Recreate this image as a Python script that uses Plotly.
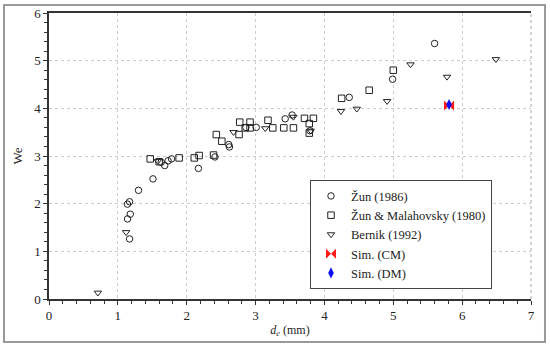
import plotly.graph_objects as go

# Žun (1986)
zun_x = [1.17, 1.14, 1.18, 1.14, 1.17, 1.30, 1.51, 1.63, 1.68, 1.73, 1.78, 2.17, 2.41,
         2.61, 2.62, 2.86, 3.01, 3.43, 3.53, 3.79, 4.36, 4.99, 5.60]
zun_y = [1.26, 1.68, 1.78, 1.99, 2.04, 2.28, 2.52, 2.87, 2.80, 2.90, 2.94, 2.74, 2.98,
         3.24, 3.19, 3.60, 3.60, 3.78, 3.86, 3.53, 4.23, 4.61, 5.36]

# Žun & Malahovsky (1980)
zm_x = [1.47, 1.60, 1.89, 2.11, 2.18, 2.39, 2.43, 2.51, 2.76, 2.77, 2.92, 2.85, 2.92,
        3.18, 3.25, 3.41, 3.55, 3.71, 3.84, 3.78, 3.78, 4.25, 4.65, 5.00]
zm_y = [2.94, 2.88, 2.96, 2.96, 3.01, 3.02, 3.45, 3.31, 3.45, 3.71, 3.71, 3.59, 3.59,
        3.75, 3.59, 3.59, 3.59, 3.79, 3.79, 3.68, 3.48, 4.21, 4.38, 4.80]

# Bernik (1992)
bern_x = [0.71, 1.12, 1.58, 2.68, 3.14, 3.55, 3.80, 4.24, 4.47, 4.91, 5.25, 5.78, 6.49]
bern_y = [0.13, 1.40, 2.89, 3.50, 3.58, 3.82, 3.53, 3.94, 3.99, 4.15, 4.92, 4.66, 5.03]

# Simulations
cm_x = [5.81]
cm_y = [4.06]
dm_x = [5.81]
dm_y = [4.08]

FONT = "Liberation Serif, Times New Roman, serif"
INK = "#222222"

fig = go.Figure()
fig.add_trace(go.Scatter(x=zun_x, y=zun_y, mode="markers", name="Žun (1986)",
                         marker=dict(symbol="circle-open", size=6.5, color=INK, line=dict(width=1))))
fig.add_trace(go.Scatter(x=zm_x, y=zm_y, mode="markers", name="Žun &amp; Malahovsky (1980)",
                         marker=dict(symbol="square-open", size=6.5, color=INK, line=dict(width=1))))
fig.add_trace(go.Scatter(x=bern_x, y=bern_y, mode="markers", name="Bernik (1992)",
                         marker=dict(symbol="triangle-down-open", size=6.5, color=INK, line=dict(width=1))))
fig.add_trace(go.Scatter(x=cm_x, y=cm_y, mode="markers", name="Sim. (CM)",
                         marker=dict(symbol="bowtie", size=10, color="#ff1a1a", line=dict(width=0))))
fig.add_trace(go.Scatter(x=dm_x, y=dm_y, mode="markers", name="Sim. (DM)",
                         marker=dict(symbol="diamond-tall", size=8, color="#1010ee", line=dict(width=0))))

axis_common = dict(
    showline=True, linecolor="#333333", linewidth=1.5,
    ticks="outside", ticklen=4, tickwidth=1, tickcolor="#333333",
    showgrid=True, gridcolor="#cccccc", griddash="dot", gridwidth=1,
    zeroline=False, automargin=False,
    tickfont=dict(family=FONT, size=13, color="#222222"),
    minor=dict(ticks="outside", ticklen=3, tickwidth=1, tickcolor="#333333", showgrid=False),
)

fig.update_xaxes(range=[0, 7], dtick=1, tick0=0, mirror=True,
                 minor_dtick=0.2,
                 title=dict(text="<i>d</i><sub><i>e</i></sub> (mm)",
                            font=dict(family=FONT, size=12, color="#222222"), standoff=3),
                 **axis_common)
fig.update_yaxes(range=[0, 6], dtick=1, tick0=0, mirror=False,
                 minor_dtick=0.2,
                 title=dict(text="We", font=dict(family=FONT, size=13, color="#222222"), standoff=9),
                 **axis_common)

fig.update_layout(
    width=550, height=348,
    margin=dict(l=49, r=19, t=13, b=49, autoexpand=False),
    plot_bgcolor="white", paper_bgcolor="white",
    font=dict(family=FONT, size=12, color="#222222"),
    legend=dict(x=0.5415, y=0.415, xanchor="left", yanchor="top",
                bgcolor="white", bordercolor="#444444", borderwidth=1,
                font=dict(family=FONT, size=12.5, color="#222222"),
                tracegroupgap=0, itemwidth=30),
    shapes=[
        dict(type="rect", xref="paper", yref="paper", x0=-0.0934, x1=1.029, y0=-0.150, y1=1.028,
             line=dict(color="#999999", width=2), fillcolor="rgba(0,0,0,0)", layer="below"),
        dict(type="line", xref="paper", yref="paper", x0=1, x1=1, y0=0, y1=1,
             line=dict(color="#aaaaaa", width=1, dash="dot")),
    ],
)

fig.write_html("out.html", config={"displayModeBar": False},
               post_script="document.body.style.margin='0';document.body.style.padding='0';")
